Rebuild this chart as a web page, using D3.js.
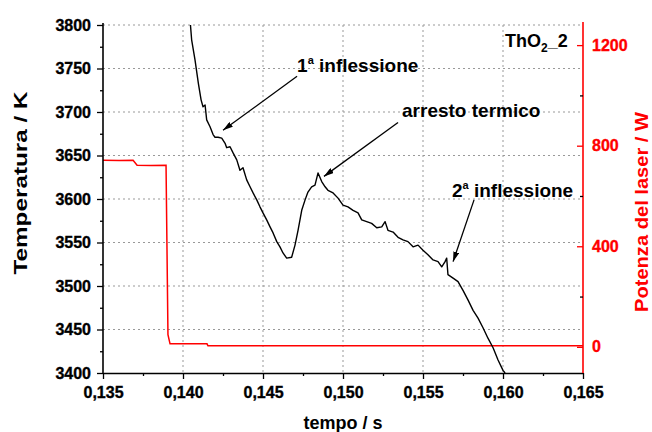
<!DOCTYPE html>
<html lang="en">
<head>
<meta charset="UTF-8">
<title>ThO2_2 cooling curve</title>
<script src="https://d3js.org/d3.v7.min.js"></script>
<style>
  body { margin: 0; background: #fff; }
  svg { font-family: "Liberation Sans", Arial, sans-serif; font-weight: bold; }
  .tick text { font-family: "Liberation Sans", Arial, sans-serif; font-weight: bold; font-size: 16px;
               stroke: currentColor; stroke-width: 0.35px; }
</style>
</head>
<body>
<svg width="652" height="432"></svg>
<script>
// temperature (black): time in s, temperature in K
const tempTime = [0.14044, 0.14054, 0.14075, 0.14096, 0.14113, 0.14125, 0.14138, 0.14148, 0.14169, 0.14188,
  0.14200, 0.14219, 0.14242, 0.14263, 0.14273, 0.14294, 0.14313, 0.14336, 0.14356, 0.14375,
  0.14398, 0.14419, 0.14438, 0.14461, 0.14481, 0.14500, 0.14523, 0.14544, 0.14563, 0.14586,
  0.14606, 0.14625, 0.14648, 0.14679, 0.14700, 0.14719, 0.14742, 0.14763, 0.14781, 0.14804,
  0.14825, 0.14844, 0.14867, 0.14888, 0.14906, 0.14938, 0.14969, 0.15000, 0.15031, 0.15063,
  0.15094, 0.15117, 0.15148, 0.15179, 0.15211, 0.15242, 0.15263, 0.15281, 0.15313, 0.15344,
  0.15375, 0.15406, 0.15438, 0.15469, 0.15500, 0.15531, 0.15563, 0.15594, 0.15617, 0.15638,
  0.15648, 0.15656, 0.15688, 0.15719, 0.15750, 0.15781, 0.15813, 0.15844, 0.15875, 0.15906,
  0.15938, 0.15969, 0.16000, 0.16013];
const tempValue = [3806, 3783, 3760, 3733, 3714, 3706, 3708, 3691, 3683, 3674,
  3671, 3671, 3670, 3664, 3659, 3660, 3653, 3645, 3633, 3636,
  3622, 3614, 3607, 3599, 3591, 3584, 3576, 3568, 3561, 3551,
  3545, 3538, 3532, 3533, 3547, 3564, 3587, 3599, 3608, 3614,
  3616, 3630, 3620, 3614, 3610, 3607, 3601, 3593, 3591, 3587,
  3584, 3576, 3574, 3572, 3567, 3568, 3574, 3564, 3562, 3556,
  3553, 3551, 3545, 3547, 3541, 3536, 3530, 3528, 3522, 3528,
  3532, 3513, 3509, 3505, 3495, 3484, 3472, 3463, 3452, 3440,
  3429, 3415, 3403, 3400];

// laser power (red): time in s, power in W
const powerTime = [0.1350, 0.1360, 0.13688, 0.13713, 0.1380, 0.13894, 0.13900, 0.13906, 0.13919, 0.1405, 0.1415, 0.14156, 0.1500, 0.1650];
const powerValue = [742, 741, 742, 722, 721, 722, 387, 48, 12, 12, 12, 4, 4, 4];

const xTicks = [0.135, 0.140, 0.145, 0.150, 0.155, 0.160, 0.165];
const tempTicks = [3400, 3450, 3500, 3550, 3600, 3650, 3700, 3750, 3800];
const powerTicks = [0, 400, 800, 1200];

const notes = [
  { num: "1", sup: "a", text: " inflessione", t: 0.14713, T: 3746, from: [0.14713, 3741], to: [0.14250, 3679] },
  { text: "arresto termico", t: 0.15369, T: 3694, from: [0.15344, 3688], to: [0.14881, 3626] },
  { num: "2", sup: "a", text: " inflessione", t: 0.15681, T: 3602, from: [0.15819, 3599], to: [0.15688, 3528] }
];

const margin = { top: 25, left: 103 },
      width = 480, height = 348;

const svg = d3.select("svg");
const g = svg.append("g").attr("transform", `translate(${margin.left},${margin.top})`);

const x = d3.scaleLinear().domain([0.135, 0.165]).range([0, width]);
const y = d3.scaleLinear().domain([3400, 3800]).range([height, 0]);
const yP = d3.scaleLinear().domain([-104, 1280]).range([height, 0]);

const fmt = d => d3.format(".3f")(d).replace(".", ",");

// grid
g.append("g").selectAll("line").data(xTicks.slice(1, -1)).join("line")
  .attr("x1", d => x(d)).attr("x2", d => x(d)).attr("y1", 0).attr("y2", height)
  .attr("stroke", "#999").attr("stroke-dasharray", "2,3");
g.append("g").selectAll("line").data(tempTicks.slice(1)).join("line")
  .attr("x1", 0).attr("x2", width).attr("y1", d => y(d)).attr("y2", d => y(d))
  .attr("stroke", "#999").attr("stroke-dasharray", "2,3");

// curves
svg.append("defs").append("clipPath").attr("id", "clip")
  .append("rect").attr("width", width).attr("height", height);
const plot = g.append("g").attr("clip-path", "url(#clip)");

plot.append("path")
  .datum(d3.range(powerTime.length))
  .attr("fill", "none").attr("stroke", "#ff0000").attr("stroke-width", 1.5)
  .attr("d", d3.line().x(i => x(powerTime[i])).y(i => yP(powerValue[i])));

plot.append("path")
  .datum(d3.range(tempTime.length))
  .attr("fill", "none").attr("stroke", "#000").attr("stroke-width", 1.4)
  .attr("stroke-linejoin", "round")
  .attr("d", d3.line().x(i => x(tempTime[i])).y(i => y(tempValue[i])));

// axes
const minor = (lo, hi, step) => d3.range(lo, hi + step / 2, step);

const xAx = g.append("g").attr("transform", `translate(0,${height})`)
  .call(d3.axisBottom(x).tickValues(xTicks).tickFormat(fmt).tickSize(6).tickSizeOuter(0).tickPadding(8));
g.append("g").attr("transform", `translate(0,${height})`)
  .call(d3.axisBottom(x).tickValues(minor(0.1375, 0.1625, 0.005)).tickFormat("").tickSize(3).tickSizeOuter(0))
  .select(".domain").remove();

const yAx = g.append("g")
  .call(d3.axisLeft(y).tickValues(tempTicks).tickFormat(d3.format("d")).tickSize(6).tickSizeOuter(0).tickPadding(6));
g.append("g")
  .call(d3.axisLeft(y).tickValues(minor(3425, 3775, 50)).tickFormat("").tickSize(3).tickSizeOuter(0))
  .select(".domain").remove();

const pAx = g.append("g").attr("transform", `translate(${width},0)`)
  .call(d3.axisRight(yP).tickValues(powerTicks).tickFormat(d3.format("d")).tickSize(-6).tickSizeOuter(0).tickPadding(9));
g.append("g").attr("transform", `translate(${width},0)`)
  .call(d3.axisRight(yP).tickValues([200, 600, 1000]).tickFormat("").tickSize(-3).tickSizeOuter(0))
  .select(".domain").remove();

g.selectAll(".domain").attr("stroke-width", 1.6);
g.selectAll(".tick line").attr("stroke-width", 1.3);
pAx.selectAll("path, line").attr("stroke", "#ff0000");
pAx.selectAll("text").attr("fill", "#ff0000").style("color", "#ff0000");
pAx.select(".domain").attr("d", `M0,-3V${height}`);
yAx.select(".domain").attr("d", `M0,-2V${height}`);

// axis titles
svg.append("text")
  .attr("transform", "translate(27,183) rotate(-90)")
  .attr("text-anchor", "middle").attr("font-size", 18)
  .attr("textLength", 183).attr("lengthAdjust", "spacingAndGlyphs")
  .text("Temperatura / K");
svg.append("text")
  .attr("transform", "translate(648,212) rotate(-90)")
  .attr("text-anchor", "middle").attr("font-size", 18).attr("fill", "#ff0000")
  .attr("textLength", 200).attr("lengthAdjust", "spacingAndGlyphs")
  .text("Potenza del laser / W");
svg.append("text")
  .attr("x", margin.left + width / 2).attr("y", 429)
  .attr("text-anchor", "middle").attr("font-size", 18)
  .text("tempo / s");

// annotations
svg.select("defs").append("marker")
  .attr("id", "head").attr("viewBox", "0 0 10 6").attr("refX", 10).attr("refY", 3)
  .attr("markerWidth", 10).attr("markerHeight", 6).attr("markerUnits", "userSpaceOnUse")
  .attr("orient", "auto")
  .append("path").attr("d", "M0,0L10,3L0,6Z").attr("fill", "#000");

notes.forEach(n => {
  const t = g.append("text").attr("x", x(n.t)).attr("y", y(n.T)).attr("font-size", 19);
  if (n.num) {
    t.append("tspan").text(n.num);
    t.append("tspan").attr("font-size", 11).attr("dy", -8).text(n.sup);
    t.append("tspan").attr("dy", 8).text(n.text);
  } else {
    t.text(n.text);
  }
  g.append("line")
    .attr("x1", x(n.from[0])).attr("y1", y(n.from[1]))
    .attr("x2", x(n.to[0])).attr("y2", y(n.to[1]))
    .attr("stroke", "#000").attr("stroke-width", 1.3)
    .attr("marker-end", "url(#head)");
});

const label = g.append("text").attr("x", x(0.16013)).attr("y", y(3775)).attr("font-size", 18);
label.append("tspan").text("ThO");
label.append("tspan").attr("font-size", 12).attr("dy", 5).text("2");
label.append("tspan").attr("dy", -5).text("_2");
</script>
</body>
</html>
